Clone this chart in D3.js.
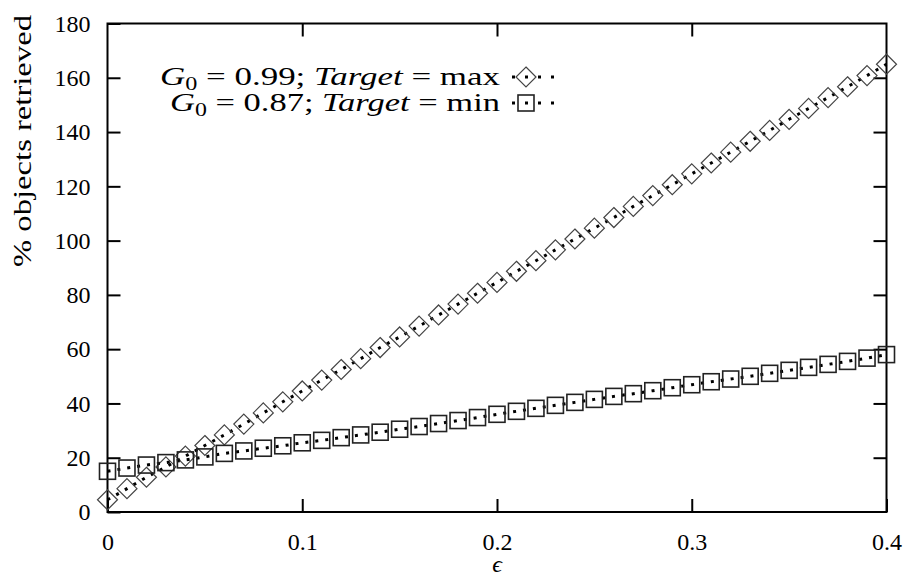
<!DOCTYPE html>
<html lang="en">
<head>
<meta charset="utf-8">
<title>% objects retrieved vs epsilon</title>
<script src="https://cdn.jsdelivr.net/npm/d3@7"></script>
<style>
  body { margin: 0; background: #fff; }
  svg text { font-family: "Liberation Serif", "DejaVu Serif", "Times New Roman", serif !important; fill: #000; }
</style>
</head>
<body>
<div id="chart"></div>
<script>
// data
var eps = [0, 0.01, 0.02, 0.03, 0.04, 0.05, 0.06, 0.07, 0.08, 0.09,
           0.10, 0.11, 0.12, 0.13, 0.14, 0.15, 0.16, 0.17, 0.18, 0.19,
           0.20, 0.21, 0.22, 0.23, 0.24, 0.25, 0.26, 0.27, 0.28, 0.29,
           0.30, 0.31, 0.32, 0.33, 0.34, 0.35, 0.36, 0.37, 0.38, 0.39, 0.40];
// G0 = 0.99; Target = max (diamonds)
var maxTarget = [4.5, 8.6, 12.8, 16.6, 20.6, 24.5, 28.4, 32.4, 36.5, 40.6,
                 44.6, 48.6, 52.5, 56.5, 60.6, 64.5, 68.5, 72.6, 76.6, 80.6,
                 84.6, 88.7, 92.6, 96.6, 100.6, 104.6, 108.5, 112.6, 116.6, 120.6,
                 124.6, 128.6, 132.6, 136.6, 140.6, 144.7, 148.7, 152.7, 156.7, 160.8, 165.0];
// G0 = 0.87; Target = min (squares)
var minTarget = [15.0, 16.2, 17.3, 18.2, 19.2, 20.3, 21.6, 22.5, 23.5, 24.4,
                 25.5, 26.4, 27.4, 28.4, 29.4, 30.5, 31.5, 32.6, 33.7, 34.8,
                 36.0, 37.1, 38.2, 39.3, 40.4, 41.5, 42.6, 43.6, 44.7, 45.8,
                 46.9, 48.0, 49.0, 50.0, 51.1, 52.2, 53.3, 54.4, 55.5, 56.7, 58.0];
var xTicks = [0, 0.1, 0.2, 0.3, 0.4];
var yTicks = [0, 20, 40, 60, 80, 100, 120, 140, 160, 180];

var W = 903, H = 577;
var FONT = '"Liberation Serif", "DejaVu Serif", serif';
var margin = {top: 23.5, right: 16.5, bottom: 65, left: 107.5},
    width = W - margin.left - margin.right,
    height = H - margin.top - margin.bottom;

var svg = d3.select("#chart")
  .append("svg")
    .attr("width", W)
    .attr("height", H)
    .attr("font-family", FONT)
  .append("g")
    .attr("transform", "translate(" + margin.left + "," + margin.top + ")");

var x = d3.scaleLinear().domain([0, 0.4]).range([0, width]);
var y = d3.scaleLinear().domain([0, 180]).range([height, 0]);

var fmtX = function(d) { return d === 0 ? "0" : d3.format(".1f")(d); };

// axes, ticks pointing inward and mirrored
svg.append("g")
  .attr("transform", "translate(0," + height + ")")
  .call(d3.axisBottom(x).tickValues(xTicks).tickFormat(fmtX).tickSizeInner(-13).tickSizeOuter(0).tickPadding(21));
svg.append("g")
  .call(d3.axisTop(x).tickValues(xTicks.slice(1, -1)).tickFormat("").tickSizeInner(-13).tickSizeOuter(0));
svg.append("g")
  .call(d3.axisLeft(y).tickValues(yTicks).tickSizeInner(-13).tickSizeOuter(0).tickPadding(17));
svg.append("g")
  .attr("transform", "translate(" + width + ",0)")
  .call(d3.axisRight(y).tickValues(yTicks.slice(1, -1)).tickFormat("").tickSizeInner(-13).tickSizeOuter(0));

svg.selectAll(".domain").remove();
svg.selectAll("g").filter(function() { return this.hasAttribute("font-family"); }).attr("font-family", FONT);
svg.selectAll(".tick line").attr("stroke", "#000").attr("stroke-width", 2);
svg.selectAll(".tick text").style("font-size", "24px").style("font-family", FONT);

// frame
svg.append("rect")
  .attr("width", width)
  .attr("height", height)
  .attr("fill", "none")
  .attr("stroke", "#000")
  .attr("stroke-width", 2);

// axis titles
svg.append("text")
  .attr("transform", "translate(" + (31 - margin.left) + "," + (141 - margin.top) + ")rotate(-90)")
  .attr("text-anchor", "middle")
  .attr("textLength", 252)
  .attr("lengthAdjust", "spacingAndGlyphs")
  .style("font-size", "25px")
  .style("font-family", FONT)
  .text("% objects retrieved");
svg.append("text")
  .attr("x", x(0.2))
  .attr("y", 572 - margin.top)
  .attr("text-anchor", "middle")
  .style("font-size", "24px")
  .style("font-family", FONT)
  .style("font-style", "italic")
  .text("\u03f5");

// lines
var line = d3.line()
  .x(function(d) { return x(d[0]); })
  .y(function(d) { return y(d[1]); });

var series = [
  {vals: maxTarget, shape: "diamond", g0: "0.99", tgt: "max"},
  {vals: minTarget, shape: "square", g0: "0.87", tgt: "min"}
];

function drawMarker(sel, shape) {
  if (shape === "diamond") {
    sel.append("path")
      .attr("d", "M0,-10L10,0L0,10L-10,0Z")
      .attr("fill", "none")
      .attr("stroke", "#444")
      .attr("stroke-width", 1.2);
  } else {
    sel.append("rect")
      .attr("x", -8).attr("y", -8)
      .attr("width", 16).attr("height", 16)
      .attr("fill", "none")
      .attr("stroke", "#222")
      .attr("stroke-width", 1.6);
  }
}

series.forEach(function(s) {
  var pts = eps.map(function(e, i) { return [e, s.vals[i]]; });
  svg.append("path")
    .datum(pts)
    .attr("d", line)
    .attr("fill", "none")
    .attr("stroke", "#000")
    .attr("stroke-width", 3)
    .attr("stroke-dasharray", "3,7");
  svg.selectAll(null)
    .data(pts)
    .enter()
    .append("g")
      .attr("transform", function(d) { return "translate(" + x(d[0]) + "," + y(d[1]) + ")"; })
      .each(function() { drawMarker(d3.select(this), s.shape); });
});

// legend
var legendRows = [77, 103];
series.forEach(function(s, i) {
  var ly = legendRows[i] - margin.top;
  var t = svg.append("text")
    .attr("x", 500 - margin.left)
    .attr("y", ly + 8)
    .attr("text-anchor", "end")
    .style("font-size", "26px")
    .style("font-family", FONT);
  t.append("tspan").style("font-style", "italic").text("G");
  t.append("tspan").attr("dy", 5).style("font-size", "18px").text("0");
  t.append("tspan").attr("dy", -5).text("\u00a0=\u00a0" + s.g0 + ";\u00a0");
  t.append("tspan").style("font-style", "italic").text("Target");
  t.append("tspan").text("\u00a0=\u00a0" + s.tgt);
  // stretch to the width of the original typeset legend
  var tw = (i === 0 ? 340 : 330);
  t.attr("textLength", tw).attr("lengthAdjust", "spacingAndGlyphs");

  svg.append("line")
    .attr("x1", 512 - margin.left).attr("x2", 557 - margin.left)
    .attr("y1", ly).attr("y2", ly)
    .attr("stroke", "#000")
    .attr("stroke-width", 3)
    .attr("stroke-dasharray", "3,10");
  var m = svg.append("g").attr("transform", "translate(" + (526 - margin.left) + "," + ly + ")");
  drawMarker(m, s.shape);
});
</script>
</body>
</html>
